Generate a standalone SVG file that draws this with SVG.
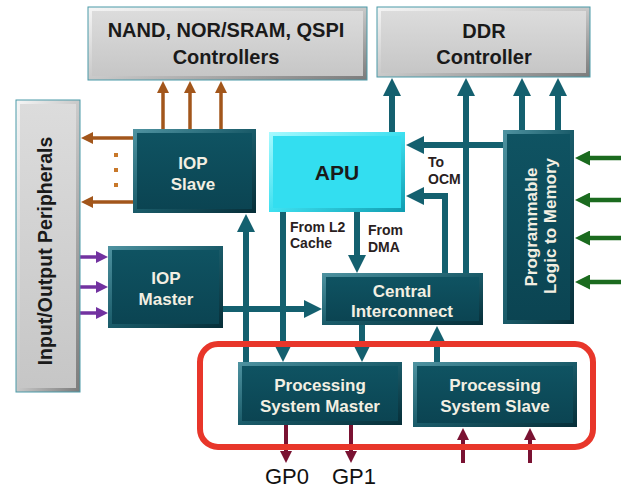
<svg xmlns="http://www.w3.org/2000/svg" width="621" height="489" viewBox="0 0 621 489">
<defs>
<linearGradient id="tealEdge" x1="0" y1="0" x2="1" y2="1"><stop offset="0" stop-color="#4f93a1"/><stop offset="0.5" stop-color="#1a5b69"/><stop offset="1" stop-color="#062e38"/></linearGradient>
<linearGradient id="tealFace" x1="0" y1="0" x2="0" y2="1"><stop offset="0" stop-color="#0f5362"/><stop offset="1" stop-color="#0b4452"/></linearGradient>
<linearGradient id="greyEdge" x1="0" y1="0" x2="1" y2="1"><stop offset="0" stop-color="#f6f6f6"/><stop offset="0.5" stop-color="#c8c8c8"/><stop offset="1" stop-color="#7a7a7a"/></linearGradient>
<linearGradient id="greyFace" x1="0" y1="0" x2="0" y2="1"><stop offset="0" stop-color="#dcdcdc"/><stop offset="1" stop-color="#c6c6c6"/></linearGradient>
<linearGradient id="cyanEdge" x1="0" y1="0" x2="1" y2="1"><stop offset="0" stop-color="#a8faff"/><stop offset="0.5" stop-color="#3ee0f0"/><stop offset="1" stop-color="#0f9cb0"/></linearGradient>
<marker id="mTeal" viewBox="0 0 18 18" refX="2" refY="9" markerWidth="18" markerHeight="18" markerUnits="userSpaceOnUse" orient="auto"><path d="M0,0 L18,9 L0,18 z" fill="#14606f"/></marker>
<marker id="mOrange" viewBox="0 0 12 12" refX="2" refY="6" markerWidth="12" markerHeight="12" markerUnits="userSpaceOnUse" orient="auto"><path d="M0,0 L12,6 L0,12 z" fill="#a2561b"/></marker>
<marker id="mPurple" viewBox="0 0 12 12" refX="2" refY="6" markerWidth="12" markerHeight="12" markerUnits="userSpaceOnUse" orient="auto"><path d="M0,0 L12,6 L0,12 z" fill="#7232a0"/></marker>
<marker id="mGreen" viewBox="0 0 15 15" refX="2" refY="7.5" markerWidth="15" markerHeight="15" markerUnits="userSpaceOnUse" orient="auto"><path d="M0,0 L15,7.5 L0,15 z" fill="#1b6b1f"/></marker>
<marker id="mRed" viewBox="0 0 12 12" refX="2" refY="6" markerWidth="12" markerHeight="12" markerUnits="userSpaceOnUse" orient="auto"><path d="M0,0 L12,6 L0,12 z" fill="#7a1232"/></marker>
</defs>
<style>
.te{fill:url(#tealEdge)}
.tf{fill:url(#tealFace)}
.ge{fill:url(#greyEdge);stroke:#4a9aa8;stroke-width:1}
.gf{fill:url(#greyFace)}
.wt{font-family:"Liberation Sans",Arial,sans-serif;font-weight:bold;font-size:17px;fill:#f3efe2;text-anchor:middle}
.gt{font-family:"Liberation Sans",Arial,sans-serif;font-weight:bold;font-size:20px;fill:#1a1a1a;text-anchor:middle}
.lb{font-family:"Liberation Sans",Arial,sans-serif;font-weight:bold;font-size:14px;fill:#2a1e1e}
.gp{font-family:"Liberation Sans",Arial,sans-serif;font-size:22px;fill:#111;text-anchor:middle}
.ct{fill:none;stroke:#14606f;stroke-width:6;marker-end:url(#mTeal)}
.co{fill:none;stroke:#a2561b;stroke-width:3.5;marker-end:url(#mOrange)}
.cp{fill:none;stroke:#7232a0;stroke-width:3.5;marker-end:url(#mPurple)}
.cg{fill:none;stroke:#1b6b1f;stroke-width:4.5;marker-end:url(#mGreen)}
.cr{fill:none;stroke:#7a1232;stroke-width:4;marker-end:url(#mRed)}
</style>
<rect width="621" height="489" fill="#ffffff"/>

<g id="connectors">
<path class="co" d="M163,129 V91"/>
<path class="co" d="M190,129 V91"/>
<path class="co" d="M221,129 V91"/>
<path class="co" d="M133,138 H91"/>
<path class="co" d="M133,202 H91"/>
<rect x="114" y="153" width="4" height="4" fill="#c8782a"/>
<rect x="114" y="168" width="4" height="4" fill="#c8782a"/>
<rect x="114" y="183" width="4" height="4" fill="#c8782a"/>
<path class="cp" d="M80,257 H98"/>
<path class="cp" d="M80,287 H98"/>
<path class="cp" d="M80,313 H98"/>
<path class="ct" d="M392,132 V94"/>
<path class="ct" d="M503,145 H422"/>
<path class="ct" d="M466,273 V94"/>
<path class="ct" d="M522,130 V94"/>
<path class="ct" d="M558,130 V94"/>
<path class="ct" d="M445,273 V196 H422"/>
<path class="ct" d="M283,212 V346"/>
<path class="ct" d="M357,212 V257"/>
<path class="ct" d="M362,325 V346"/>
<path class="ct" d="M437,362 V342"/>
<path class="ct" d="M223,309 H306"/>
<path class="ct" d="M246,362 V230"/>
<path class="cg" d="M621,158 H588"/>
<path class="cg" d="M621,200 H588"/>
<path class="cg" d="M621,238 H588"/>
<path class="cg" d="M621,282 H588"/>
<path class="cr" d="M286,425 V453"/>
<path class="cr" d="M351,425 V453"/>
<path class="cr" d="M463,463 V438"/>
<path class="cr" d="M530,463 V438"/>
</g>

<g id="nand">
<rect class="ge" x="88" y="7" width="279" height="73"/>
<rect class="gf" x="92" y="11" width="271" height="65"/>
<text class="gt" x="226" y="37">NAND, NOR/SRAM, QSPI</text>
<text class="gt" x="226" y="64">Controllers</text>
</g>
<g id="ddr">
<rect class="ge" x="377" y="7" width="213" height="70"/>
<rect class="gf" x="381" y="11" width="205" height="62"/>
<text class="gt" x="484" y="38">DDR</text>
<text class="gt" x="484" y="64">Controller</text>
</g>
<g id="io">
<rect class="ge" x="16" y="100" width="64" height="292"/>
<rect class="gf" x="20" y="104" width="56" height="284"/>
<text class="gt" transform="translate(52,251) rotate(-90)" style="font-size:19.5px">Input/Output Peripherals</text>
</g>
<g id="iopslave">
<rect class="te" x="133" y="129" width="123" height="84"/>
<rect class="tf" x="137" y="133" width="115" height="76"/>
<text class="wt" x="193" y="169">IOP</text>
<text class="wt" x="193" y="190">Slave</text>
</g>
<g id="apu">
<rect x="269" y="132" width="136" height="80" fill="url(#cyanEdge)"/>
<rect x="273" y="136" width="128" height="72" fill="#33def0"/>
<text class="gt" x="337" y="180" style="font-size:21px">APU</text>
</g>
<g id="iopmaster">
<rect class="te" x="108" y="246" width="115" height="82"/>
<rect class="tf" x="112" y="250" width="107" height="74"/>
<text class="wt" x="166" y="284">IOP</text>
<text class="wt" x="166" y="305">Master</text>
</g>
<g id="ci">
<rect class="te" x="322" y="273" width="161" height="52"/>
<rect class="tf" x="326" y="277" width="153" height="44"/>
<text class="wt" x="402" y="297">Central</text>
<text class="wt" x="402" y="317">Interconnect</text>
</g>
<g id="pl">
<rect class="te" x="503" y="130" width="71" height="194"/>
<rect class="tf" x="507" y="134" width="63" height="186"/>
<text class="wt" transform="translate(537,227) rotate(-90)">Programmable</text>
<text class="wt" transform="translate(556,226) rotate(-90)">Logic to Memory</text>
</g>
<g id="psmaster">
<rect class="te" x="238" y="362" width="164" height="63"/>
<rect class="tf" x="242" y="366" width="156" height="55"/>
<text class="wt" x="320" y="391">Processing</text>
<text class="wt" x="320" y="412">System Master</text>
</g>
<g id="psslave">
<rect class="te" x="413" y="362" width="164" height="65"/>
<rect class="tf" x="417" y="366" width="156" height="57"/>
<text class="wt" x="495" y="391">Processing</text>
<text class="wt" x="495" y="412">System Slave</text>
</g>
<g id="highlight">
<rect x="200" y="344" width="393" height="103" rx="18" fill="none" stroke="#e8362a" stroke-width="6"/>
</g>
<g id="labels">
<text class="lb" x="290" y="232">From L2</text>
<text class="lb" x="290" y="248">Cache</text>
<text class="lb" x="368" y="235">From</text>
<text class="lb" x="368" y="252">DMA</text>
<text class="lb" x="428" y="167">To</text>
<text class="lb" x="428" y="184">OCM</text>
<text class="gp" x="287" y="484">GP0</text>
<text class="gp" x="354" y="484">GP1</text>
</g>
</svg>
